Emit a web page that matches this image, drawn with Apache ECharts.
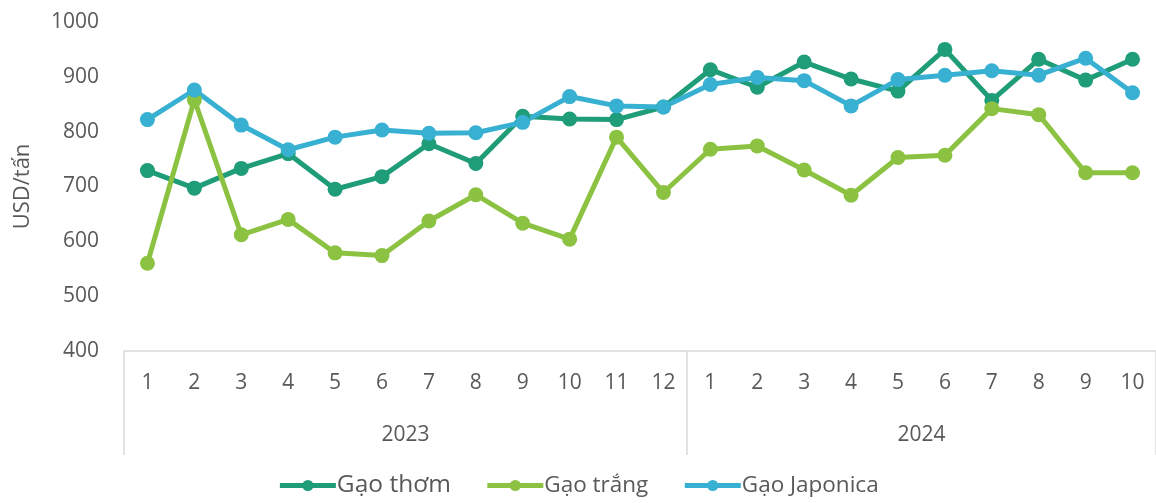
<!DOCTYPE html>
<html>
<head>
<meta charset="utf-8">
<script src="https://cdn.jsdelivr.net/npm/echarts@6/dist/echarts.min.js"></script>
<style>
  html, body { margin: 0; padding: 0; background: #fff; }
  #chart { width: 1156px; height: 503px; }
</style>
</head>
<body>
<div id="chart"></div>
<script>
// Monthly rice export prices (USD/tấn), Jan 2023 – Oct 2024
const months = ['1','2','3','4','5','6','7','8','9','10','11','12',
                '1','2','3','4','5','6','7','8','9','10'];
const years = ['2023', '2024'];
const yearSpans = [12, 10];           // months in each year group
const seriesNames = ['Gạo thơm', 'Gạo trắng', 'Gạo Japonica'];
const gaoThom = [729, 697, 733, 760, 695, 718, 778, 742, 828, 823, 822, 845,
                 913, 881, 927, 896, 874, 950, 857, 932, 894, 932];
const gaoTrang = [560, 858, 612, 640, 579, 574, 637, 685, 633, 604, 790, 689,
                  768, 774, 730, 684, 753, 757, 842, 831, 725, 725];
const gaoJaponica = [822, 876, 812, 767, 790, 803, 797, 798, 817, 864, 847, 845,
                     886, 899, 893, 847, 895, 903, 911, 903, 934, 871];
const yTicks = { min: 400, max: 1000, step: 100 };

const colors = ['#1f9c78', '#8cc241', '#38b0d2'];
const textColor = '#595959';
const gridColor = '#d9d9d9';
const font = '"Open Sans", "Noto Sans", sans-serif';

// Group boundaries and centres on a 0..N linear scale behind the month axis
const bounds = [0];
yearSpans.forEach(s => bounds.push(bounds[bounds.length - 1] + s));
const centres = yearSpans.map((s, i) => bounds[i] + s / 2);

const chart = echarts.init(document.getElementById('chart'), null, { renderer: 'canvas' });

function lineSeries(name, data, color) {
  return {
    name, type: 'line', data,
    symbol: 'circle', symbolSize: 15,
    lineStyle: { width: 5, color },
    itemStyle: { color },
    emphasis: { disabled: true },
    animation: false
  };
}

chart.setOption({
  animation: false,
  grid: { left: 124, right: -2, top: 22, bottom: 152, containLabel: false },
  legend: {
    bottom: 0,
    left: 'center',
    itemWidth: 56,
    itemHeight: 14,
    itemGap: 34,
    data: seriesNames,
    lineStyle: { width: 5 },
    formatter: n => n === seriesNames[0] ? '{big|' + n + '}' : '{small|' + n + '}',
    textStyle: {
      color: textColor,
      fontFamily: font,
      padding: [0, 0, 0, -4],
      rich: {
        big: { fontSize: 24.5, color: textColor, fontFamily: font },
        small: { fontSize: 22.5, color: textColor, fontFamily: font }
      }
    }
  },
  xAxis: [
    {
      type: 'category',
      data: months,
      boundaryGap: true,
      axisLine: { show: true, lineStyle: { color: gridColor, width: 1.5 } },
      axisTick: { show: false },
      axisLabel: { color: textColor, fontFamily: font, fontSize: 21, margin: 22, interval: 0 },
      splitLine: { show: false }
    },
    {
      type: 'value',
      position: 'bottom',
      min: bounds[0],
      max: bounds[bounds.length - 1],
      axisLine: { show: false },
      axisTick: {
        show: true, length: 104, inside: false,
        customValues: bounds,
        lineStyle: { color: gridColor, width: 1.5 }
      },
      axisLabel: {
        show: true, color: textColor, fontFamily: font, fontSize: 21, margin: 74,
        customValues: centres,
        formatter: v => years[centres.indexOf(v)] || ''
      },
      splitLine: { show: false }
    }
  ],
  yAxis: {
    type: 'value',
    min: yTicks.min, max: yTicks.max, interval: yTicks.step,
    name: 'USD/tấn',
    nameLocation: 'middle',
    nameRotate: 90,
    nameGap: 90,
    nameTextStyle: { color: textColor, fontFamily: font, fontSize: 22 },
    axisLine: { show: false },
    axisTick: { show: false },
    splitLine: { show: false },
    axisLabel: {
      color: textColor, fontFamily: font, fontSize: 21, margin: 25,
      formatter: v => String(v)
    }
  },
  series: [
    lineSeries(seriesNames[0], gaoThom, colors[0]),
    lineSeries(seriesNames[1], gaoTrang, colors[1]),
    lineSeries(seriesNames[2], gaoJaponica, colors[2])
  ]
});
</script>
</body>
</html>
